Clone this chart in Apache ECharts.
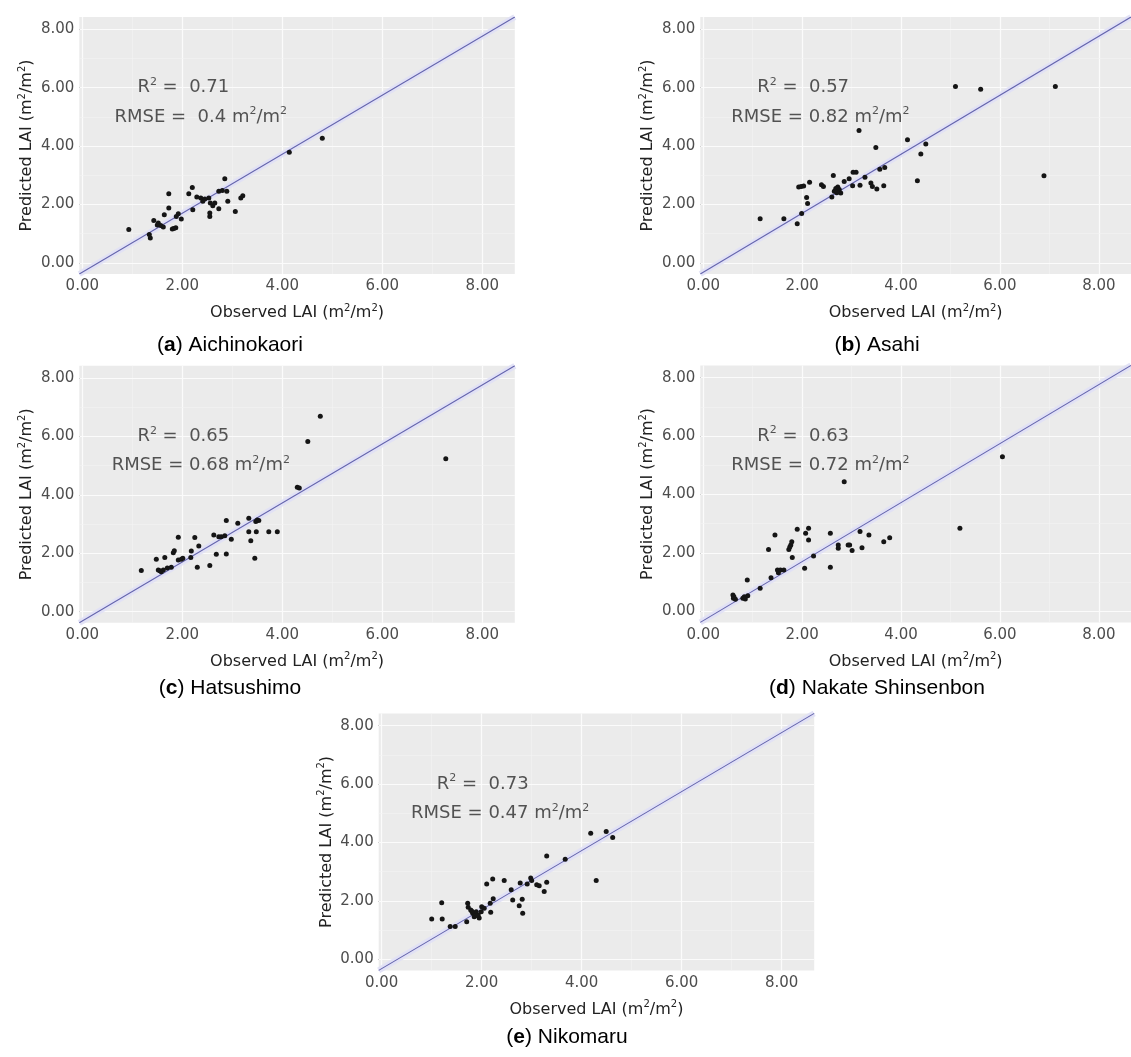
<!DOCTYPE html>
<html>
<head>
<meta charset="utf-8">
<script src="https://cdn.jsdelivr.net/npm/echarts@6/dist/echarts.min.js"></script>
<style>
  html, body { margin: 0; padding: 0; background: #ffffff; }
  #chart { width: 1131px; height: 1057px; }
</style>
</head>
<body>
<div id="chart"></div>
<script>
// Observed vs predicted LAI (m2/m2), one [observed, predicted] pair per plot
const aichinokaori = [
  [0.93,1.14],[1.34,0.97],[1.36,0.85],[1.43,1.45],[1.52,1.37],[1.57,1.28],[1.62,1.23],[1.64,1.65],
  [1.73,1.88],[1.73,2.37],[1.80,1.16],[1.87,1.20],[1.88,1.59],[1.92,1.68],[1.98,1.50],[2.13,2.37],
  [2.20,2.58],[2.21,1.82],[2.29,2.26],[2.37,2.22],[2.41,2.11],[2.53,2.22],[2.56,2.05],[2.55,1.71],
  [2.55,1.59],[2.61,1.96],[2.73,1.85],[2.73,2.45],[2.80,2.48],[2.85,2.88],[2.89,2.45],[2.91,2.11],
  [3.06,1.76],[3.17,2.22],[3.21,2.30],[4.14,3.79],[4.80,4.27],[2.65,2.05],[1.50,1.30],[2.45,2.19],
  [1.83,1.18]
];
const asahi = [
  [1.15,1.51],[1.63,1.51],[1.90,1.34],[1.93,2.60],[1.98,2.62],[2.03,2.63],[2.15,2.76],[1.99,1.69],
  [2.09,2.24],[2.11,2.03],[2.39,2.68],[2.43,2.62],[2.63,2.99],[2.60,2.26],[2.65,2.45],[2.72,2.60],
  [2.75,2.51],[2.78,2.39],[2.85,2.79],[2.95,2.88],[3.03,3.10],[3.09,3.10],[3.02,2.64],[3.15,4.53],
  [3.17,2.66],[3.27,2.93],[3.39,2.74],[3.42,2.62],[3.51,2.53],[3.49,3.95],[3.57,3.21],[3.67,3.27],
  [3.65,2.64],[4.13,4.22],[4.33,2.81],[4.40,3.73],[4.50,4.07],[5.10,6.04],[5.61,5.95],[6.89,2.98],
  [7.12,6.04],[2.70,2.40],[2.68,2.55]
];
const hatsushimo = [
  [1.18,1.41],[1.48,1.80],[1.52,1.43],[1.58,1.37],[1.62,1.43],[1.65,1.86],[1.78,1.52],[1.82,2.02],
  [1.84,2.09],[1.92,2.55],[1.92,1.77],[1.98,1.80],[2.01,1.83],[2.17,1.86],[2.18,2.08],[2.25,2.54],
  [2.30,1.52],[2.33,2.25],[2.55,1.58],[2.63,2.63],[2.68,1.97],[2.73,2.57],[2.78,2.57],[2.88,3.12],
  [2.88,1.98],[2.85,2.60],[2.98,2.48],[3.11,3.03],[3.33,3.20],[3.33,2.74],[3.37,2.43],[3.45,1.83],
  [3.47,3.09],[3.50,3.14],[3.53,3.12],[3.48,2.74],[3.73,2.74],[3.90,2.74],[4.30,4.26],[4.34,4.24],
  [4.51,5.83],[4.76,6.69],[7.27,5.24],[1.55,1.40],[1.70,1.50]
];
const nakateShinsenbon = [
  [0.60,0.56],[0.61,0.45],[0.65,0.41],[0.80,0.45],[0.83,0.50],[0.90,0.53],[0.89,1.07],[1.15,0.79],
  [1.37,1.15],[1.32,2.12],[1.45,2.61],[1.50,1.41],[1.52,1.32],[1.56,1.41],[1.63,1.41],[1.73,2.12],
  [1.77,2.27],[1.79,2.38],[1.80,1.84],[1.90,2.81],[2.05,1.47],[2.07,2.67],[2.13,2.84],[2.13,2.44],
  [2.23,1.89],[2.57,2.67],[2.57,1.51],[2.73,2.27],[2.73,2.16],[2.93,2.27],[2.96,2.27],[3.01,2.08],
  [3.17,2.73],[3.21,2.18],[3.35,2.61],[3.65,2.38],[3.77,2.52],[2.85,4.44],[5.19,2.84],[6.05,5.29],
  [0.62,0.50],[0.85,0.42],[1.75,2.20]
];
const nikomaru = [
  [1.00,1.38],[1.21,1.38],[1.20,1.94],[1.37,1.12],[1.47,1.12],[1.70,1.29],[1.72,1.92],[1.73,1.78],
  [1.78,1.69],[1.82,1.58],[1.85,1.46],[1.89,1.63],[1.93,1.52],[1.95,1.41],[2.00,1.80],[1.99,1.63],
  [2.10,2.58],[2.17,1.92],[2.18,1.61],[2.22,2.75],[2.23,2.07],[2.45,2.70],[2.59,2.38],[2.62,2.03],
  [2.75,1.83],[2.77,2.61],[2.81,2.06],[2.82,1.58],[2.91,2.58],[2.98,2.78],[3.00,2.70],[3.10,2.55],
  [3.15,2.52],[3.25,2.32],[3.30,2.64],[3.30,3.54],[3.67,3.43],[4.18,4.32],[4.29,2.70],[4.49,4.38],
  [4.62,4.17],[1.90,1.50],[1.80,1.65],[2.05,1.75]
];

const cultivars = ['Aichinokaori', 'Asahi', 'Hatsushimo', 'Nakate Shinsenbon', 'Nikomaru'];
const panelLetters = ['a', 'b', 'c', 'd', 'e'];
const rSquared = ['0.71', '0.57', '0.65', '0.63', '0.73'];
const rmseValues = [' 0.4', '0.82', '0.68', '0.72', '0.47'];
const panelData = [aichinokaori, asahi, hatsushimo, nakateShinsenbon, nikomaru];

// axis breaks and extents
const majorTicks = [0, 2, 4, 6, 8];
const minorTicks = [1, 3, 5, 7];
const xRange = [-0.06, 8.65];
const yRange = [-0.38, 8.42];
// 1:1 reference line across the panel
const refLine = [[-0.06, -0.38], [8.65, 8.42]];
// where the statistics text sits (data units): R2 row and RMSE row
const r2Pos = [2.02, 6.0];
const rmsePos = [2.37, 5.0];

// ---- layout ----
const plotFont = 'DejaVu Sans';
const capFont = 'Liberation Sans';
const panelW = 435.5, panelH = 257;
const panelBoxes = [[79.3, 17], [700.3, 17], [79.3, 365.8], [700.3, 365.4], [378.7, 713.4]];
const captionPos = [[230, 345], [877, 345], [230, 688], [877, 688], [567, 1037]];

const supRich = (size, color) => ({
  t: { fontSize: size, fontFamily: plotFont, color: color, lineHeight: size + 4 },
  s: { fontSize: Math.round(size * 0.62), fontFamily: plotFont, color: color, verticalAlign: 'top', lineHeight: Math.round(size * 0.62) }
});

const grids = [], xAxes = [], yAxes = [], series = [];

panelData.forEach((pts, i) => {
  const [left, top] = panelBoxes[i];
  grids.push({
    left: left, top: top, width: panelW, height: panelH,
    show: true, backgroundColor: '#ebebeb', borderWidth: 0, containLabel: false
  });
  const axisCommon = {
    gridIndex: i, type: 'value',
    axisLine: { show: false },
    splitLine: { show: false },
    axisTick: { show: true, customValues: majorTicks, length: 3, lineStyle: { color: '#444', width: 1 } },
    axisLabel: {
      customValues: majorTicks, formatter: v => v.toFixed(2), margin: 5,
      color: '#4d4d4d', fontSize: 15, fontFamily: plotFont
    },
    nameLocation: 'middle'
  };
  xAxes.push(Object.assign({}, axisCommon, {
    min: xRange[0], max: xRange[1],
    name: '{t|Observed LAI (m}{s|2}{t|/m}{s|2}{t|)}',
    nameGap: 29,
    nameTextStyle: { rich: supRich(16, '#222') }
  }));
  yAxes.push(Object.assign({}, axisCommon, {
    min: yRange[0], max: yRange[1],
    name: '{t|Predicted LAI (m}{s|2}{t|/m}{s|2}{t|)}',
    nameGap: 42,
    nameTextStyle: { rich: supRich(16, '#222') }
  }));

  // panel grid lines (bottom layer)
  const major = { color: '#fbfbfb', width: 1.2, type: 'solid' };
  const minor = { color: '#f4f4f4', width: 0.6, type: 'solid' };
  const gridLines = []
    .concat(majorTicks.map(v => ({ xAxis: v, lineStyle: major })))
    .concat(minorTicks.map(v => ({ xAxis: v, lineStyle: minor })))
    .concat(majorTicks.map(v => ({ yAxis: v, lineStyle: major })))
    .concat(minorTicks.map(v => ({ yAxis: v, lineStyle: minor })));

  series.push({
    type: 'line', xAxisIndex: i, yAxisIndex: i, data: [], silent: true, zlevel: 0, z: 1,
    markLine: {
      silent: true, symbol: ['none', 'none'], label: { show: false },
      emphasis: { disabled: true }, animation: false, data: gridLines
    }
  });
  // marks live on an upper layer so the grid lines stay underneath
  series.push({
    type: 'line', xAxisIndex: i, yAxisIndex: i, data: refLine, silent: true, zlevel: 1, z: 2,
    showSymbol: false, lineStyle: { color: 'rgba(224,224,246,0.9)', width: 6 }
  });
  series.push({
    type: 'line', xAxisIndex: i, yAxisIndex: i, data: refLine, silent: true, zlevel: 1, z: 3,
    showSymbol: false, lineStyle: { color: '#6565ad', width: 1.1 }
  });
  series.push({
    type: 'scatter', xAxisIndex: i, yAxisIndex: i, data: pts, zlevel: 1, z: 4,
    symbol: 'circle', symbolSize: 5, itemStyle: { color: '#151515', opacity: 1 }
  });
  const annRich = supRich(18, '#2c2c2c');
  series.push({
    type: 'scatter', xAxisIndex: i, yAxisIndex: i, zlevel: 1, z: 5, symbolSize: 0, silent: true,
    label: { show: true, position: 'inside', rich: annRich },
    data: [
      { value: r2Pos, label: { formatter: '{t|R}{s|2}{t| =  ' + rSquared[i] + '}' } },
      { value: rmsePos, label: { formatter: '{t|RMSE = ' + rmseValues[i] + ' m}{s|2}{t|/m}{s|2}' } }
    ]
  });
});

const capRich = {
  n: { fontSize: 21, fontFamily: capFont, fill: '#000' },
  b: { fontSize: 21, fontFamily: capFont, fill: '#000', fontWeight: 'bold' }
};
const graphics = cultivars.map((name, i) => ({
  type: 'text', x: captionPos[i][0], y: captionPos[i][1], silent: true,
  style: {
    text: '{n|(}{b|' + panelLetters[i] + '}{n|) ' + name + '}',
    align: 'center', verticalAlign: 'middle', rich: capRich
  }
}));

const chart = echarts.init(document.getElementById('chart'), null, { renderer: 'canvas' });
chart.setOption({
  animation: false,
  backgroundColor: '#ffffff',
  grid: grids,
  xAxis: xAxes,
  yAxis: yAxes,
  series: series,
  graphic: graphics
});
</script>
</body>
</html>
